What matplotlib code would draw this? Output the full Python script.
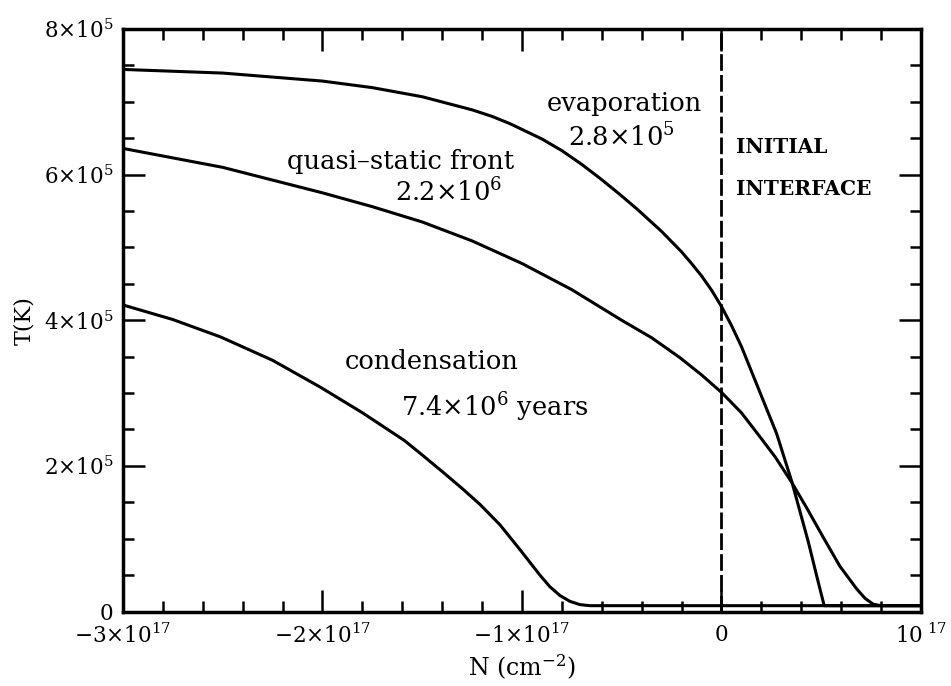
import numpy as np
import matplotlib
matplotlib.use('Agg')
import matplotlib.pyplot as plt
from matplotlib.ticker import MultipleLocator

plt.rcParams['font.family'] = 'DejaVu Serif'
plt.rcParams['mathtext.fontset'] = 'dejavuserif'

# column density in units of 1e17 cm^-2, temperature in units of 1e5 K
evap_N = [-3.0, -2.5, -2.0, -1.75, -1.5, -1.25, -1.15, -1.06, -0.9, -0.8,
          -0.7, -0.609, -0.51, -0.42, -0.3, -0.2, -0.15, -0.1, -0.05, 0.0,
          0.05, 0.1, 0.19, 0.277, 0.353, 0.435, 0.48, 0.515, 1.0]
evap_T = [7.445, 7.395, 7.285, 7.195, 7.07, 6.89, 6.80, 6.70, 6.49, 6.33,
          6.14, 5.95, 5.73, 5.52, 5.22, 4.94, 4.78, 4.61, 4.415, 4.19,
          3.93, 3.64, 3.03, 2.44, 1.78, 0.96, 0.46, 0.08, 0.08]

quasi_N = [-3.0, -2.5, -2.0, -1.75, -1.5, -1.25, -1.0, -0.75, -0.5, -0.35,
           -0.21, -0.1, 0.0, 0.1, 0.19, 0.27, 0.353, 0.43, 0.51, 0.594,
           0.678, 0.72, 0.761, 0.8, 1.0]
quasi_T = [6.36, 6.10, 5.75, 5.56, 5.35, 5.09, 4.78, 4.42, 4.0, 3.76,
           3.49, 3.25, 3.01, 2.73, 2.41, 2.12, 1.77, 1.41, 1.02, 0.62,
           0.31, 0.18, 0.10, 0.08, 0.08]

cond_N = [-3.0, -2.75, -2.51, -2.25, -2.01, -1.8, -1.59, -1.5, -1.39, -1.3,
          -1.21, -1.11, -1.01, -0.91, -0.86, -0.81, -0.76, -0.71, -0.66, 1.0]
cond_T = [4.21, 4.01, 3.77, 3.45, 3.08, 2.73, 2.35, 2.15, 1.90, 1.69,
          1.47, 1.19, 0.85, 0.50, 0.34, 0.22, 0.14, 0.095, 0.08, 0.08]

xticks = [-3, -2, -1, 0, 1]
xlabels = [r'$-3{\times}10^{17}$', r'$-2{\times}10^{17}$', r'$-1{\times}10^{17}$',
           r'$0$', r'$10^{\ 17}$']
yticks = [0, 2, 4, 6, 8]
ylabels = [r'$0$', r'$2{\times}10^{5}$', r'$4{\times}10^{5}$',
           r'$6{\times}10^{5}$', r'$8{\times}10^{5}$']

E17 = 1e17
E5 = 1e5

fig = plt.figure(figsize=(9.51, 6.86), dpi=100)
ax = fig.add_axes([0.1293, 0.1086, 0.8391, 0.8491])

for n, t in [(evap_N, evap_T), (quasi_N, quasi_T), (cond_N, cond_T)]:
    ax.plot(np.array(n) * E17, np.array(t) * E5, color='k', lw=2.2,
            solid_joinstyle='round')

ax.axvline(0, color='k', lw=2.0, dashes=(6.0, 1.5))

ax.set_xlim(-3 * E17, 1 * E17)
ax.set_ylim(0, 8 * E5)

ax.set_xticks([v * E17 for v in xticks], xlabels)
ax.set_yticks([v * E5 for v in yticks], ylabels)
ax.xaxis.set_minor_locator(MultipleLocator(0.2 * E17))
ax.yaxis.set_minor_locator(MultipleLocator(0.5 * E5))
ax.tick_params(which='both', direction='in', top=True, right=True, width=1.8)
ax.tick_params(which='major', length=16, labelsize=15.5)
ax.tick_params(axis='x', which='major', pad=9)
ax.tick_params(axis='y', which='major', pad=7)
ax.tick_params(which='minor', length=8)
for s in ax.spines.values():
    s.set_linewidth(2.5)

ax.set_xlabel(r'N (cm$^{-2}$)', fontsize=17, labelpad=3)
ax.set_ylabel('T(K)', fontsize=16, labelpad=6)

# annotations
ax.text(-0.488 * E17, 6.875 * E5, 'evaporation', fontsize=18.5,
        ha='center', va='baseline')
ax.text(-0.504 * E17, 6.385 * E5, r'$2.8{\times}10^{5}$', fontsize=18.5,
        ha='center', va='baseline')
ax.text(-1.607 * E17, 6.078 * E5, 'quasi–static front', fontsize=18.5,
        ha='center', va='baseline')
ax.text(-1.37 * E17, 5.63 * E5, r'$2.2{\times}10^{6}$', fontsize=18.5,
        ha='center', va='baseline')
ax.text(-1.454 * E17, 3.33 * E5, 'condensation', fontsize=18.5,
        ha='center', va='baseline')
ax.text(-1.135 * E17, 2.676 * E5, r'$7.4{\times}10^{6}$ years', fontsize=18.5,
        ha='center', va='baseline')
ax.text(0.073 * E17, 6.30 * E5, 'INITIAL', fontsize=14.5, fontweight='bold',
        ha='left', va='baseline')
ax.text(0.073 * E17, 5.72 * E5, 'INTERFACE', fontsize=14.5, fontweight='bold',
        ha='left', va='baseline')

fig.savefig('out.png', dpi=100)
